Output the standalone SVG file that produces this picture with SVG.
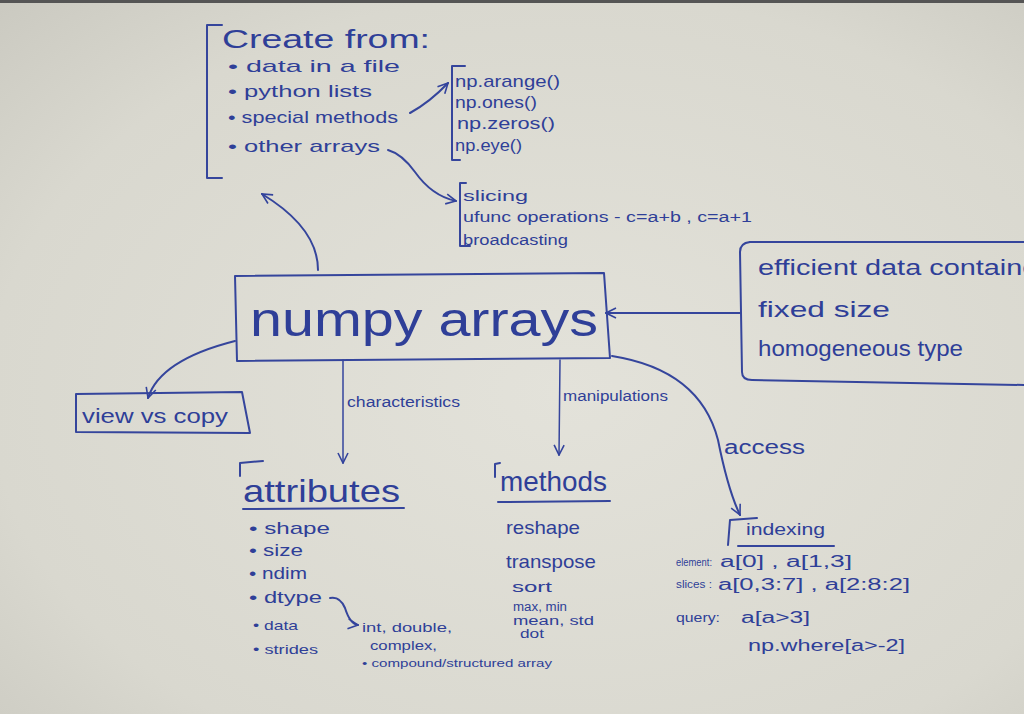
<svg xmlns="http://www.w3.org/2000/svg" width="1024" height="714" viewBox="0 0 1024 714">
<defs>
<radialGradient id="bg" cx="0.55" cy="0.55" r="0.8">
<stop offset="0" stop-color="#e3e2da"/>
<stop offset="0.7" stop-color="#d9d8cf"/>
<stop offset="1" stop-color="#c9c8bf"/>
</radialGradient>
<marker id="ah" viewBox="0 0 12 12" refX="11" refY="6" markerWidth="12" markerHeight="12" markerUnits="userSpaceOnUse" orient="auto">
<path d="M1,1 L11,6 L1,11" fill="none" stroke="#33439c" stroke-width="1.6"/>
</marker>
<style>
.ink{fill:none;stroke:#35459c;stroke-width:2;stroke-linecap:round;stroke-linejoin:round}
.thin{fill:none;stroke:#35459c;stroke-width:1.5;stroke-linecap:round}
text{fill:#2f3f98;font-family:"Liberation Sans","DejaVu Sans",sans-serif}
.t18{font-size:17px}
.t15{font-size:14px}
.t13{font-size:13px}
</style>
</defs>
<rect width="1024" height="714" fill="url(#bg)"/>
<rect width="1024" height="3" fill="#555"/>

<g id="connectors">
<path class="ink" d="M410,113 Q430,102 448,83" marker-end="url(#ah)"/>
<path class="ink" d="M388,150 Q402,154 415,172 Q432,196 456,201" marker-end="url(#ah)"/>
<path class="ink" d="M318,270 Q318,228 262,194" marker-end="url(#ah)"/>
<path class="ink" d="M740,313 L606,313" marker-end="url(#ah)"/>
<path class="ink" d="M235,341 Q160,360 148,398" marker-end="url(#ah)"/>
<path class="thin" d="M343,360 L343,463" marker-end="url(#ah)"/>
<path class="thin" d="M560,360 L559,455" marker-end="url(#ah)"/>
<path class="ink" d="M612,356 Q700,370 718,440 Q728,490 740,515" marker-end="url(#ah)"/>
<path class="ink" d="M330,598 Q340,596 345,608 Q350,624 358,625" marker-end="url(#ah)"/>
<text class="t15" x="347" y="407" textLength="113" lengthAdjust="spacingAndGlyphs">characteristics</text>
<text class="t15" x="563" y="401" textLength="105" lengthAdjust="spacingAndGlyphs">manipulations</text>
<text x="724" y="454" font-size="20" textLength="81" lengthAdjust="spacingAndGlyphs">access</text>
</g>

<g id="create">
<path class="ink" d="M222,25 L207,25 L207,178 L222,178"/>
<text x="222" y="48" font-size="25" textLength="208" lengthAdjust="spacingAndGlyphs">Create from:</text>
<text class="t18" x="228" y="72" textLength="172" lengthAdjust="spacingAndGlyphs">• data in a file</text>
<text class="t18" x="228" y="97" textLength="144" lengthAdjust="spacingAndGlyphs">• python lists</text>
<text class="t18" x="228" y="123" textLength="170" lengthAdjust="spacingAndGlyphs">• special methods</text>
<text class="t18" x="228" y="152" textLength="152" lengthAdjust="spacingAndGlyphs">• other arrays</text>
</g>

<g id="special">
<path class="ink" d="M465,66 L452,66 L452,160 L460,160"/>
<text class="t18" x="455" y="87" textLength="105" lengthAdjust="spacingAndGlyphs">np.arange()</text>
<text class="t18" x="455" y="108" textLength="82" lengthAdjust="spacingAndGlyphs">np.ones()</text>
<text class="t18" x="457" y="129" textLength="98" lengthAdjust="spacingAndGlyphs">np.zeros()</text>
<text class="t18" x="455" y="151" textLength="67" lengthAdjust="spacingAndGlyphs">np.eye()</text>
</g>

<g id="other">
<path class="ink" d="M466,183 L460,183 L460,246 L470,246"/>
<text class="t15" x="463" y="201" textLength="65" lengthAdjust="spacingAndGlyphs">slicing</text>
<text class="t15" x="463" y="222" textLength="289" lengthAdjust="spacingAndGlyphs">ufunc operations - c=a+b , c=a+1</text>
<text class="t15" x="463" y="245" textLength="105" lengthAdjust="spacingAndGlyphs">broadcasting</text>
</g>

<g id="numpy">
<path class="ink" d="M235,276 L604,273 L610,358 L237,361 Z"/>
<text x="250" y="336" font-size="48" textLength="348" lengthAdjust="spacingAndGlyphs">numpy  arrays</text>
</g>

<g id="props">
<path class="ink" d="M750,242 Q740,243 740,252 L742,372 Q742,380 752,380 L1024,385"/>
<path class="ink" d="M750,242 L1024,242"/>
<text x="758" y="275" font-size="22" textLength="290" lengthAdjust="spacingAndGlyphs">efficient data container</text>
<text x="758" y="317" font-size="22" textLength="132" lengthAdjust="spacingAndGlyphs">fixed size</text>
<text x="758" y="356" font-size="22" textLength="205" lengthAdjust="spacingAndGlyphs">homogeneous type</text>
</g>

<g id="view">
<path class="ink" d="M76,394 L242,392 L250,433 L76,432 Z"/>
<text x="82" y="423" font-size="20" textLength="146" lengthAdjust="spacingAndGlyphs">view vs copy</text>
</g>

<g id="attributes">
<path class="ink" d="M240,476 L240,463 L263,461"/>
<text x="243" y="502" font-size="32" textLength="157" lengthAdjust="spacingAndGlyphs">attributes</text>
<path class="ink" d="M243,509 L404,508"/>
<text class="t18" x="249" y="534" textLength="81" lengthAdjust="spacingAndGlyphs">• shape</text>
<text class="t18" x="249" y="556" textLength="54" lengthAdjust="spacingAndGlyphs">• size</text>
<text class="t18" x="249" y="579" textLength="58" lengthAdjust="spacingAndGlyphs">• ndim</text>
<text class="t18" x="249" y="603" textLength="73" lengthAdjust="spacingAndGlyphs">• dtype</text>
<text class="t13" x="253" y="630" textLength="45" lengthAdjust="spacingAndGlyphs">• data</text>
<text class="t13" x="253" y="654" textLength="65" lengthAdjust="spacingAndGlyphs">• strides</text>
<text class="t13" x="362" y="632" textLength="90" lengthAdjust="spacingAndGlyphs">int, double,</text>
<text class="t13" x="370" y="650" textLength="67" lengthAdjust="spacingAndGlyphs">complex,</text>
<text x="362" y="667" font-size="10" textLength="190" lengthAdjust="spacingAndGlyphs">• compound/structured array</text>
</g>

<g id="methods">
<path class="ink" d="M495,477 L495,464 L500,463"/>
<text x="500" y="491" font-size="28" textLength="107" lengthAdjust="spacingAndGlyphs">methods</text>
<path class="ink" d="M498,502 L610,501"/>
<text x="506" y="534" font-size="19" textLength="74" lengthAdjust="spacingAndGlyphs">reshape</text>
<text x="506" y="568" font-size="19" textLength="90" lengthAdjust="spacingAndGlyphs">transpose</text>
<text class="t15" x="512" y="592" textLength="40" lengthAdjust="spacingAndGlyphs">sort</text>
<text x="513" y="611" font-size="12" textLength="54" lengthAdjust="spacingAndGlyphs">max, min</text>
<text x="513" y="625" font-size="12" textLength="81" lengthAdjust="spacingAndGlyphs">mean, std</text>
<text x="520" y="638" font-size="12" textLength="24" lengthAdjust="spacingAndGlyphs">dot</text>
</g>

<g id="indexing">
<path class="ink" d="M728,545 L730,520 L757,518"/>
<text x="746" y="535" font-size="17" textLength="79" lengthAdjust="spacingAndGlyphs">indexing</text>
<path class="ink" d="M738,546 L834,546"/>
<text x="676" y="566" font-size="11" textLength="36" lengthAdjust="spacingAndGlyphs">element:</text>
<text x="720" y="567" font-size="16" textLength="132" lengthAdjust="spacingAndGlyphs">a[0] , a[1,3]</text>
<text x="676" y="588" font-size="11" textLength="36" lengthAdjust="spacingAndGlyphs">slices :</text>
<text x="718" y="590" font-size="16" textLength="192" lengthAdjust="spacingAndGlyphs">a[0,3:7] , a[2:8:2]</text>
<text x="676" y="622" font-size="13" textLength="44" lengthAdjust="spacingAndGlyphs">query:</text>
<text x="741" y="623" font-size="16" textLength="69" lengthAdjust="spacingAndGlyphs">a[a&gt;3]</text>
<text x="748" y="651" font-size="16" textLength="157" lengthAdjust="spacingAndGlyphs">np.where[a&gt;-2]</text>
</g>
</svg>
